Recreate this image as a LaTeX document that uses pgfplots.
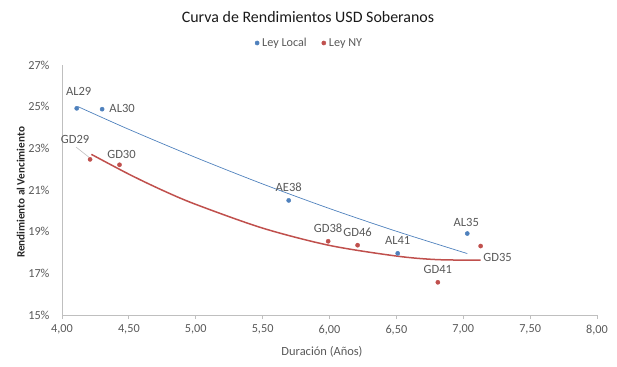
\documentclass[border=0pt]{standalone}
\usepackage{pgfplots}
\pgfplotsset{compat=1.18}
\usepackage{pgfplotstable}
\usepackage{fontspec}
\setmainfont{Carlito}
\definecolor{txt}{HTML}{595959}
\definecolor{axl}{HTML}{BFBFBF}
\definecolor{cblue}{HTML}{4F81BD}
\definecolor{cred}{HTML}{C0504D}

\pgfplotstableread{
x y dx dy label
4.11 24.92 2 17 AL29
4.30 24.88 20 1 AL30
5.695 20.50 0 13 AE38
6.51 17.96 0 12.5 AL41
7.03 18.91 -1 11 AL35
}\local

\pgfplotstableread{
x y dx dy label
4.21 22.47 -15 20 GD29
4.43 22.21 2 10 GD30
5.99 18.54 0 13 GD38
6.21 18.35 0 13 GD46
7.13 18.31 17 -11 GD35
6.81 16.57 0 13 GD41
}\ny

\begin{document}
\begin{tikzpicture}
\useasboundingbox (-62bp,-52bp) rectangle (555bp,315bp);
\begin{axis}[
  at={(0,0)}, anchor=south west,
  scale only axis, width=535bp, height=250bp,
  xmin=4, xmax=8, ymin=15, ymax=27,
  axis x line=bottom, axis y line=left,
  axis line style={draw=axl, line width=0.8bp, -},
  xtick={4,4.5,...,8}, ytick={15,17,...,27},
  yticklabels={15\%,17\%,19\%,21\%,23\%,25\%,27\%},
  xticklabel style={/pgf/number format/fixed, /pgf/number format/fixed zerofill, /pgf/number format/precision=2, /pgf/number format/use comma, /pgf/number format/assume math mode=true, yshift=-2.5bp},
  tick label style={font=\fontsize{12.3}{14}\selectfont, text=txt},
  xtick style={draw=axl, line width=0.8bp}, tick align=outside, major tick length=4bp,
  ytick style={draw=none},
  yticklabel style={xshift=-5bp},
  xlabel={Duración (Años)}, ylabel={Rendimiento al Vencimiento},
  xlabel style={at={(axis description cs:0.486,-0.148)}, anchor=center, font=\fontsize{12.5}{14}\selectfont, text=txt},
  ylabel style={at={(axis description cs:-0.077,0.49)}, anchor=center, font=\fontsize{11.2}{13}\selectfont\bfseries, text=black!85},
  legend style={draw=none, at={(0.4636,1.088)}, anchor=center, font=\fontsize{12.2}{14}\selectfont, text=txt, /tikz/every even column/.append style={column sep=12bp}, inner xsep=0pt, nodes={inner xsep=3bp}},
  legend columns=2,
  legend image code/.code={\draw[#1] plot coordinates {(0.12cm,0cm)};},
  clip=false,
]
% trendlines
\addplot[cblue, line width=0.7bp, smooth, forget plot] coordinates {
(4.12,25.00) (4.5,23.91) (5.0,22.56) (5.5,21.29) (6.0,20.11) (6.5,19.02) (7.03,17.95)};
\addplot[cred, line width=1.5bp, smooth, forget plot] coordinates {
(4.22,22.71) (4.5,21.76) (4.75,20.99) (5.0,20.31) (5.5,19.17) (6.0,18.34) (6.5,17.83) (6.8,17.66) (7.13,17.63)};
% leader line
\addplot[axl, line width=0.6bp, forget plot] coordinates {(4.105,23.06) (4.20,22.58)};
% points
\addplot[only marks, mark=*, mark size=2.1bp, color=cblue,
  nodes near coords, point meta=explicit symbolic,
  visualization depends on={\thisrow{dx}\as\dx},
  visualization depends on={\thisrow{dy}\as\dy},
  nodes near coords style={anchor=center, inner sep=0pt, xshift=\dx bp, yshift=\dy bp, text=txt, font=\fontsize{12.6}{14}\selectfont}]
  table[x=x, y=y, meta=label]{\local};
\addlegendentry{Ley Local}
\addplot[only marks, mark=*, mark size=2.1bp, color=cred,
  nodes near coords, point meta=explicit symbolic,
  visualization depends on={\thisrow{dx}\as\dx},
  visualization depends on={\thisrow{dy}\as\dy},
  nodes near coords style={anchor=center, inner sep=0pt, xshift=\dx bp, yshift=\dy bp, text=txt, font=\fontsize{12.6}{14}\selectfont}]
  table[x=x, y=y, meta=label]{\ny};
\addlegendentry{Ley NY}
\end{axis}
\node[text=black!90, font=\fontsize{16}{18}\selectfont] at (246bp,298bp) {Curva de Rendimientos USD Soberanos};
\end{tikzpicture}
\end{document}
